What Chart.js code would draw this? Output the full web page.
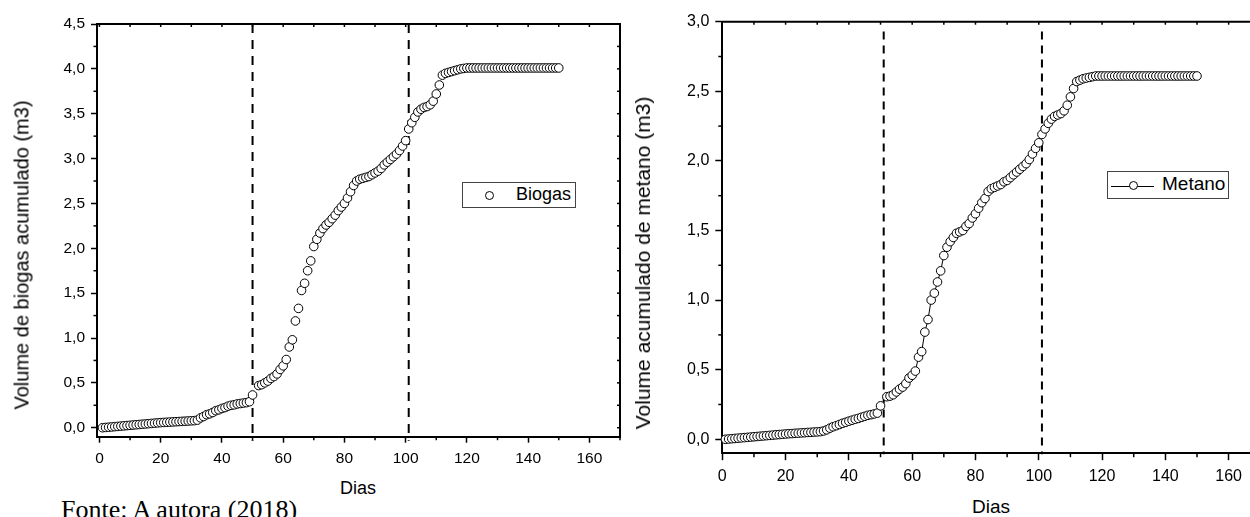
<!DOCTYPE html>
<html><head><meta charset="utf-8">
<script src="https://cdn.jsdelivr.net/npm/chart.js@4.4.0/dist/chart.umd.min.js"></script>
<style>
html,body{margin:0;padding:0;background:#fff;overflow:hidden;width:1250px;height:517px;}
body{position:relative;font-family:"Liberation Sans",Arial,sans-serif;color:#000;}
.abs{position:absolute;white-space:nowrap;line-height:normal;}
.ctr{transform:translate(-50%,-50%);}
.rot{transform:translate(-50%,-50%) rotate(-90deg);}
canvas{position:absolute;}
.legbox{position:absolute;border:1px solid #444;background:#fff;box-sizing:border-box;}
.mk{position:absolute;width:9px;height:9px;border:1px solid #000;border-radius:50%;background:#fff;box-sizing:border-box;z-index:2;}
.ln{position:absolute;height:0;border-top:1px solid #000;z-index:1;}
</style></head><body>
<canvas id="c1" width="640" height="470" style="left:0;top:0"></canvas>
<canvas id="c2" width="640" height="490" style="left:640px;top:0"></canvas>

<div class="abs rot" id="ytitle1" style="left:22px;top:255px;font-size:20px;"></div>
<div class="abs rot" id="ytitle2" style="left:643px;top:263px;font-size:21px;"></div>
<div class="abs ctr" id="xtitle1" style="left:358px;top:488px;font-size:18px;"></div>
<div class="abs ctr" id="xtitle2" style="left:991px;top:507px;font-size:19px;"></div>
<div class="abs" id="source" style="left:61px;top:497px;font-family:'Liberation Serif','Times New Roman',serif;font-size:26px;line-height:26px;"></div>

<div class="legbox" style="left:462px;top:182px;width:114px;height:26px;">
  <span class="mk" style="left:22px;top:7.5px;"></span>
  <span class="abs" id="leg1" style="left:53px;top:1px;font-size:18px;"></span>
</div>
<div class="legbox" style="left:1107px;top:171px;width:122px;height:28px;">
  <span class="ln" style="left:3px;top:13.5px;width:19px;"></span>
  <span class="mk" style="left:21px;top:9px;"></span>
  <span class="ln" style="left:29px;top:13.5px;width:17px;"></span>
  <span class="abs" id="leg2" style="left:54px;top:1px;font-size:19px;"></span>
</div>

<script>
// ---------------- DATA ----------------
const days = [
  1,2,3,4,5,6,7,8,9,10,11,12,13,14,15,16,17,18,19,20,
  21,22,23,24,25,26,27,28,29,30,31,32,33,34,35,36,37,38,39,40,
  41,42,43,44,45,46,47,48,49,50,51,52,53,54,55,56,57,58,59,60,
  61,62,63,64,65,66,67,68,69,70,71,72,73,74,75,76,77,78,79,80,
  81,82,83,84,85,86,87,88,89,90,91,92,93,94,95,96,97,98,99,100,
  101,102,103,104,105,106,107,108,109,110,111,112,113,114,115,116,117,118,119,120,
  121,122,123,124,125,126,127,128,129,130,131,132,133,134,135,136,137,138,139,140,
  141,142,143,144,145,146,147,148,149,150
];
const biogas = [
  0.000,0.003,0.006,0.009,0.012,0.015,0.018,0.021,0.024,0.027,
  0.030,0.033,0.036,0.039,0.042,0.045,0.048,0.051,0.054,0.057,
  0.059,0.061,0.063,0.065,0.067,0.069,0.071,0.073,0.075,0.077,
  0.079,0.085,0.110,0.125,0.145,0.155,0.170,0.190,0.200,0.215,
  0.225,0.240,0.250,0.255,0.265,0.270,0.275,0.280,0.290,0.365,
  null,0.470,0.480,0.500,0.520,0.550,0.570,0.600,0.650,0.690,
  0.760,0.900,0.980,1.190,1.330,1.530,1.610,1.750,1.860,2.020,
  2.100,2.170,2.220,2.260,2.290,2.330,2.370,2.420,2.460,2.500,
  2.560,2.630,2.700,2.750,2.770,2.780,2.790,2.800,2.820,2.840,
  2.860,2.890,2.930,2.960,2.990,3.020,3.050,3.090,3.140,3.200,
  3.330,3.400,3.460,3.520,3.550,3.570,3.580,3.600,3.640,3.720,
  3.820,3.930,3.950,3.960,3.970,3.980,3.990,4.000,4.005,4.010,
  4.010,4.010,4.010,4.010,4.010,4.010,4.010,4.010,4.010,4.010,
  4.010,4.010,4.010,4.010,4.010,4.010,4.010,4.010,4.010,4.010,
  4.010,4.010,4.010,4.010,4.010,4.010,4.010,4.010,4.010,4.010
];
const metano = [
  0.000,0.002,0.004,0.006,0.008,0.010,0.012,0.014,0.016,0.018,
  0.020,0.022,0.024,0.026,0.028,0.030,0.032,0.034,0.036,0.038,
  0.040,0.041,0.043,0.044,0.046,0.047,0.049,0.050,0.052,0.053,
  0.055,0.060,0.068,0.080,0.090,0.098,0.106,0.115,0.122,0.130,
  0.137,0.144,0.150,0.158,0.165,0.172,0.177,0.182,0.188,0.240,
  null,0.306,0.310,0.320,0.340,0.360,0.375,0.400,0.440,0.460,
  0.490,0.590,0.630,0.770,0.860,1.000,1.050,1.130,1.210,1.320,
  1.380,1.420,1.450,1.480,1.490,1.500,1.530,1.550,1.590,1.620,
  1.660,1.700,1.730,1.780,1.800,1.810,1.820,1.830,1.850,1.860,
  1.880,1.900,1.920,1.940,1.960,1.980,2.010,2.050,2.090,2.130,
  2.190,2.230,2.270,2.300,2.320,2.330,2.340,2.360,2.400,2.460,
  2.520,2.570,2.580,2.590,2.595,2.600,2.605,2.610,2.610,2.610,
  2.610,2.610,2.610,2.610,2.610,2.610,2.610,2.610,2.610,2.610,
  2.610,2.610,2.610,2.610,2.610,2.610,2.610,2.610,2.610,2.610,
  2.610,2.610,2.610,2.610,2.610,2.610,2.610,2.610,2.610,2.610
];
const xTicks = [0,20,40,60,80,100,120,140,160];
const xMinorTicks = [10,30,50,70,90,110,130,150,170];
const biogasYTicks = [0,0.5,1.0,1.5,2.0,2.5,3.0,3.5,4.0,4.5];
const biogasYMinor = [0.25,0.75,1.25,1.75,2.25,2.75,3.25,3.75,4.25];
const metanoYTicks = [0,0.5,1.0,1.5,2.0,2.5,3.0];
const metanoYMinor = [0.25,0.75,1.25,1.75,2.25,2.75];
const biogasPhaseLines = [50, 101];
const metanoPhaseLines = [51, 101];
const seriesNames = ['Biogas', 'Metano'];
const yTitles = ['Volume de biogas acumulado (m3)', 'Volume acumulado de metano (m3)'];
const xTitle = 'Dias';
const sourceText = 'Fonte: A autora (2018)';

// ---------------- TEXT ----------------
document.getElementById('ytitle1').textContent = yTitles[0];
document.getElementById('ytitle2').textContent = yTitles[1];
document.getElementById('xtitle1').textContent = xTitle;
document.getElementById('xtitle2').textContent = xTitle;
document.getElementById('source').textContent = sourceText;
document.getElementById('leg1').textContent = seriesNames[0];
document.getElementById('leg2').textContent = seriesNames[1];

// ---------------- CHARTS ----------------
const FONT = '"Liberation Sans", Arial, sans-serif';
const comma = v => Number(v).toFixed(1).replace('.', ',');

const framePlugin = {
  id: 'frame',
  beforeDatasetsDraw(chart, args, o) {
    const {ctx, chartArea: a, scales: {x, y}} = chart;
    ctx.save();
    ctx.strokeStyle = '#000';
    ctx.lineWidth = o.dashWidth;
    ctx.setLineDash(o.dash);
    const top = o.dashTop == null ? a.top : y.getPixelForValue(o.dashTop);
    o.lines.forEach(v => {
      const px = x.getPixelForValue(v);
      ctx.beginPath(); ctx.moveTo(px, top); ctx.lineTo(px, a.bottom + o.dashOver); ctx.stroke();
    });
    ctx.restore();
  },
  afterDraw(chart, args, o) {
    const {ctx, chartArea: a, scales: {x, y}} = chart;
    ctx.save();
    ctx.strokeStyle = '#000';
    ctx.lineWidth = 2;
    ctx.beginPath();
    ctx.moveTo(a.left - 1, a.top); ctx.lineTo(a.right, a.top); ctx.lineTo(a.right, a.bottom + 1);
    ctx.stroke();
    ctx.lineWidth = 1.5;
    const seg = (x1, y1, x2, y2) => { ctx.beginPath(); ctx.moveTo(x1, y1); ctx.lineTo(x2, y2); ctx.stroke(); };
    o.xMinor.forEach(v => { const px = x.getPixelForValue(v); if (px <= a.right + 1) seg(px, a.bottom, px, a.bottom + o.minorLen); });
    o.yMinor.forEach(v => { const py = y.getPixelForValue(v); seg(a.left - o.minorLen, py, a.left, py); });
    o.xMajor.concat(o.xMinor).forEach(v => { const px = x.getPixelForValue(v); if (px < a.right - 1 && px > a.left + 1) seg(px, a.top, px, a.top + o.innerLen); });
    o.yMajor.concat(o.yMinor).forEach(v => { const py = y.getPixelForValue(v); if (py > a.top + 1) seg(a.right, py, a.right - o.innerLen, py); });
    ctx.restore();
  }
};

function makeChart(id, cfg) {
  const pts = days.map((d, i) => ({x: d, y: cfg.values[i]}));
  return new Chart(document.getElementById(id), {
    type: 'scatter',
    data: { datasets: [{
      label: cfg.label,
      data: pts,
      showLine: cfg.showLine,
      spanGaps: true,
      borderColor: '#000',
      borderWidth: 1,
      pointRadius: 4.3,
      pointHoverRadius: 4.3,
      pointBorderWidth: 1,
      pointBackgroundColor: '#fff',
      pointBorderColor: '#000',
      clip: false
    }]},
    options: {
      responsive: false,
      animation: false,
      devicePixelRatio: 1,
      events: [],
      layout: { padding: cfg.padding },
      plugins: {
        legend: {display: false},
        tooltip: {enabled: false},
        frame: {
          lines: cfg.phaseLines, dashTop: cfg.dashTop, dash: cfg.dash, dashWidth: 2, dashOver: cfg.dashOver,
          xMajor: xTicks, xMinor: xMinorTicks, yMajor: cfg.yTicks, yMinor: cfg.yMinor,
          minorLen: cfg.minorLen, innerLen: 3
        }
      },
      scales: {
        x: {
          type: 'linear', min: cfg.xMin, max: 170,
          afterBuildTicks: s => { s.ticks = xTicks.map(v => ({value: v})); },
          afterFit: s => { s.height = cfg.xAxisH; },
          ticks: {autoSkip: false, maxRotation: 0, minRotation: 0, padding: cfg.xPad, color: '#000',
                  font: {family: FONT, size: cfg.tickSize}, callback: v => String(v)},
          grid: {display: true, drawOnChartArea: false, drawTicks: true, tickLength: cfg.tickLen, tickWidth: 1.5, tickColor: '#000'},
          border: {display: true, color: '#000', width: 2}
        },
        y: {
          type: 'linear', min: -0.1, max: cfg.yMax,
          afterBuildTicks: s => { s.ticks = cfg.yTicks.map(v => ({value: v})); },
          afterFit: s => { s.width = cfg.yAxisW; },
          ticks: {autoSkip: false, padding: cfg.yPad, color: '#000',
                  font: {family: FONT, size: cfg.tickSize}, callback: v => comma(v)},
          grid: {display: true, drawOnChartArea: false, drawTicks: true, tickLength: cfg.tickLen, tickWidth: 1.5, tickColor: '#000'},
          border: {display: true, color: '#000', width: 2}
        }
      }
    },
    plugins: [framePlugin]
  });
}

makeChart('c1', {
  label: seriesNames[0], values: biogas, showLine: false,
  padding: {left: 0, top: 24, right: 20, bottom: 0},
  xMin: -0.8, yMax: 4.5, yTicks: biogasYTicks, yMinor: biogasYMinor,
  xAxisH: 33.3, yAxisW: 97, xPad: 7, yPad: 6, tickSize: 15.5, tickLen: 6, minorLen: 3.5,
  phaseLines: biogasPhaseLines, dashTop: null, dash: [9, 7], dashOver: 4
});
makeChart('c2', {
  label: seriesNames[1], values: metano, showLine: true,
  padding: {left: 0, top: 21.7, right: 19.7, bottom: 0},
  xMin: 0, yMax: 3.0, yTicks: metanoYTicks, yMinor: metanoYMinor,
  xAxisH: 36.8, yAxisW: 82.3, xPad: 7, yPad: 6, tickSize: 16, tickLen: 7, minorLen: 4,
  phaseLines: metanoPhaseLines, dashTop: 2.93, dash: [8, 6], dashOver: 1
});
</script>
</body></html>
